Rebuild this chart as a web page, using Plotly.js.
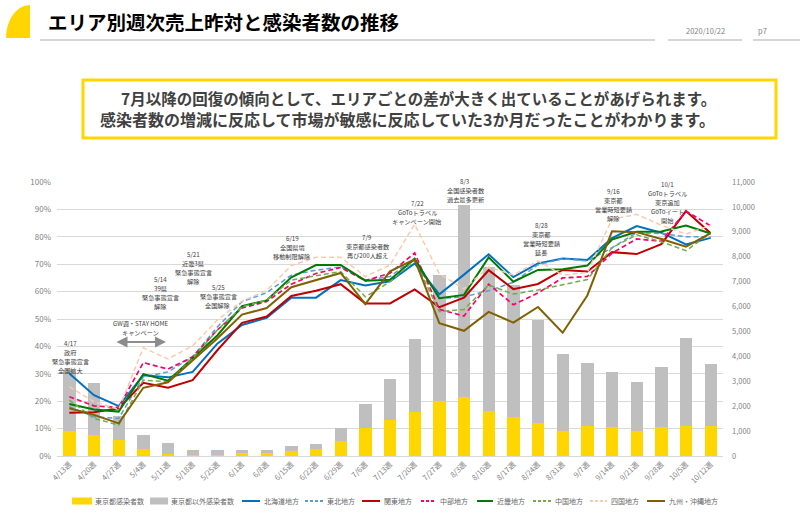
<!DOCTYPE html>
<html><head><meta charset="utf-8">
<script src="https://cdn.plot.ly/plotly-3.0.1.min.js"></script>
<style>html,body{margin:0;padding:0;background:#fff;}#chart{width:800px;height:528px;}</style>
</head><body><div id="chart"></div>
<script>
// ---------- data ----------
const weeks = ['4/13週','4/20週','4/27週','5/4週','5/11週','5/18週','5/25週','6/1週','6/8週','6/15週','6/22週','6/29週','7/6週','7/13週','7/20週','7/27週','8/3週','8/10週','8/17週','8/24週','8/31週','9/7週','9/14週','9/21週','9/28週','10/5週','10/12週'];
const tokyoCases = [1010, 830, 640, 270, 90, 30, 50, 130, 120, 200, 290, 610, 1130, 1440, 1770, 2200, 2380, 1800, 1560, 1320, 990, 1190, 1150, 985, 1180, 1190, 1190];
const otherCases = [2435, 2110, 960, 583, 419, 198, 202, 110, 120, 200, 203, 500, 953, 1664, 2930, 5070, 7700, 5770, 5290, 4150, 3110, 2545, 2236, 1987, 2406, 3549, 2489];
const hokkaido = [30.1, 22.2, 18.2, 29.5, 28.7, 30.7, 41.0, 47.8, 50.4, 57.8, 57.8, 64.2, 62.2, 63.8, 70.3, 59.0, 66.2, 73.6, 65.3, 70.3, 72.1, 71.5, 79.5, 83.9, 81.5, 77.2, 79.6];
const tohoku   = [18.0, 14.3, 13.7, 28.9, 30.7, 36.2, 47.1, 56.3, 59.6, 66.0, 67.8, 69.0, 64.2, 65.5, 72.2, 57.5, 58.1, 60.3, 63.4, 69.8, 72.0, 71.2, 76.0, 81.5, 81.2, 80.0, 80.0];
const kanto    = [15.8, 16.0, 17.4, 26.7, 24.9, 27.7, 38.6, 48.6, 50.9, 58.4, 60.3, 62.7, 55.7, 55.7, 60.8, 54.3, 57.8, 67.8, 60.9, 62.8, 67.9, 67.3, 74.4, 73.7, 77.3, 89.4, 81.3];
const chubu    = [21.6, 18.3, 17.7, 34.1, 31.7, 36.2, 46.0, 54.0, 56.4, 62.7, 66.6, 68.8, 64.0, 66.7, 74.1, 53.5, 51.1, 62.7, 55.2, 59.5, 65.0, 65.5, 74.0, 79.2, 78.4, 89.4, 84.0];
const kinki    = [19.0, 17.0, 16.2, 29.9, 27.5, 35.6, 44.0, 54.7, 56.8, 65.2, 69.7, 69.7, 64.0, 64.3, 71.9, 57.6, 58.8, 72.5, 63.6, 67.9, 68.2, 69.5, 79.0, 81.8, 81.9, 84.1, 81.2];
const chugoku  = [20.4, 13.7, 11.3, 27.7, 27.1, 35.6, 46.0, 54.4, 56.9, 64.2, 65.8, 67.3, 58.1, 63.6, 71.5, 52.7, 53.5, 62.4, 59.1, 60.6, 62.5, 64.4, 76.0, 80.7, 78.2, 74.9, 81.5];
const shikoku  = [25.3, 19.8, 17.0, 39.5, 35.4, 40.2, 49.6, 56.5, 60.4, 69.5, 72.5, 72.5, 65.5, 69.7, 84.6, 66.5, 61.0, 69.0, 66.0, 71.2, 66.0, 67.0, 86.4, 88.2, 84.2, 81.0, 84.2];
const kyushu   = [17.4, 15.0, 11.9, 24.9, 26.9, 35.0, 42.9, 51.6, 54.0, 61.6, 64.2, 66.8, 55.4, 67.4, 71.8, 48.5, 45.7, 52.6, 48.7, 54.4, 45.0, 58.6, 82.0, 81.7, 79.2, 76.4, 81.3];
const pctTicks = [0,10,20,30,40,50,60,70,80,90,100];

const events = [
  {lines:['4/17','政府','緊急事態宣言','全国拡大'], x:70, y:343},
  {lines:['GW週・STAY HOME','キャンペーン'], x:140, y:323},
  {lines:['5/14','39県','緊急事態宣言','解除'], x:160, y:279},
  {lines:['5/21','近畿3県','緊急事態宣言','解除'], x:193, y:254},
  {lines:['5/25','緊急事態宣言','全国解除'], x:218, y:287},
  {lines:['6/19','全国県境','移動制限解除'], x:292, y:238},
  {lines:['7/9','東京都感染者数','再び200人超え'], x:367, y:237},
  {lines:['7/22','GoToトラベル','キャンペーン開始'], x:417, y:203},
  {lines:['8/3','全国感染者数','過去最多更新'], x:465, y:181},
  {lines:['8/28','東京都','営業時短要請','延長'], x:541, y:225},
  {lines:['9/16','東京都','営業時短要請','解除'], x:613, y:191},
  {lines:['10/1','GoToトラベル','東京追加','GoToイート','開始'], x:667, y:184}
];

// ---------- geometry helpers (pixel -> paper) ----------
const W = 800, H = 528, ML = 57, MR = 77, MT = 182, MB = 72;
const PW = W - ML - MR, PH = H - MT - MB;
const px = x => (x - ML) / PW;
const py = y => (MT + PH - y) / PH;

const FONT = '"Noto Sans CJK JP", "Noto Sans", sans-serif';

const barSeries = [
  {name:'東京都感染者数', y:tokyoCases, color:'#FFD600'},
  {name:'東京都以外感染者数', y:otherCases, color:'#BFBFBF'}
];
const lineSeries = [
  {name:'北海道地方', y:hokkaido, color:'#0070C0', dash:'solid', w:2},
  {name:'東北地方', y:tohoku, color:'#5B9BD5', dash:'5px,3px', w:1.5},
  {name:'関東地方', y:kanto, color:'#C00000', dash:'solid', w:2},
  {name:'中部地方', y:chubu, color:'#FF0066', dash:'5px,3px', w:1.7},
  {name:'近畿地方', y:kinki, color:'#007A00', dash:'solid', w:2},
  {name:'中国地方', y:chugoku, color:'#70AD47', dash:'5px,3px', w:1.5},
  {name:'四国地方', y:shikoku, color:'#F8CBAD', dash:'5px,3px', w:1.5},
  {name:'九州・沖縄地方', y:kyushu, color:'#806000', dash:'solid', w:2}
];

const traces = [];
barSeries.forEach(s => traces.push({type:'bar', name:s.name, x:weeks, y:s.y, yaxis:'y', marker:{color:s.color}, hoverinfo:'skip'}));
lineSeries.forEach(s => traces.push({type:'scatter', mode:'lines', name:s.name, x:weeks, y:s.y, yaxis:'y2', line:{color:s.color, width:s.w, dash:s.dash}, hoverinfo:'skip'}));

// ---------- decorations ----------
const shapes = [];
const annotations = [];

// header yellow quarter-ellipse
(function(){
  const x0=6, x1=30, y0=5, y1=38, k=0.5523;
  const rx=x1-x0, ry=y1-y0;
  const P = (x,y) => px(x)+','+py(y);
  shapes.push({type:'path', xref:'paper', yref:'paper',
    path:'M'+P(x0,y1)+' C'+P(x0,y1-k*ry)+' '+P(x1-k*rx,y0)+' '+P(x1,y0)+' L'+P(x1,y1)+' Z',
    fillcolor:'#FFD600', line:{width:0}});
})();
// header underlines
[[40,655],[668,742],[753,800]].forEach(([a,b]) => shapes.push({type:'line', xref:'paper', yref:'paper', x0:px(a), x1:px(b), y0:py(40), y1:py(40), line:{color:'#C8C8C8', width:1.5}}));
annotations.push({text:'<b>エリア別週次売上昨対と感染者数の推移</b>', xref:'paper', yref:'paper', x:px(46), y:py(21), xanchor:'left', yanchor:'middle', showarrow:false, font:{size:19.5, color:'#000', family:FONT}});
annotations.push({text:'2020/10/22', xref:'paper', yref:'paper', x:px(705), y:py(30), xanchor:'center', yanchor:'middle', showarrow:false, font:{size:7.5, color:'#7F7F7F', family:FONT}});
annotations.push({text:'p7', xref:'paper', yref:'paper', x:px(762), y:py(30), xanchor:'center', yanchor:'middle', showarrow:false, font:{size:7.5, color:'#7F7F7F', family:FONT}});

// message box
shapes.push({type:'rect', xref:'paper', yref:'paper', x0:px(83), x1:px(776), y0:py(80), y1:py(138), line:{color:'#FFD600', width:3}, fillcolor:'rgba(0,0,0,0)'});
annotations.push({text:'<b>7月以降の回復の傾向として、エリアごとの差が大きく出ていることがあげられます。</b>', xref:'paper', yref:'paper', x:px(418), y:py(98), xanchor:'center', yanchor:'middle', showarrow:false, font:{size:15.5, color:'#404040', family:FONT}});
annotations.push({text:'<b>感染者数の増減に反応して市場が敏感に反応していた3か月だったことがわかります。</b>', xref:'paper', yref:'paper', x:px(407), y:py(119), xanchor:'center', yanchor:'middle', showarrow:false, font:{size:16, color:'#404040', family:FONT}});

// event notes: one annotation per line, spaced so glyph boxes do not collide
const NOTE_GAP = 9;
events.forEach(e => e.lines.forEach((t, i) => annotations.push({
  text:t, xref:'paper', yref:'paper', x:px(e.x), y:py(e.y + i*NOTE_GAP), xanchor:'center', yanchor:'middle',
  showarrow:false, borderpad:0, font:{size:6.2, color:'#404040', family:FONT}})));
// GW double arrow
annotations.push({text:'', xref:'paper', yref:'paper', axref:'paper', ayref:'paper', x:px(166), y:py(342), ax:px(115), ay:py(342), showarrow:true, arrowside:'end+start', arrowhead:2, startarrowhead:2, arrowsize:1.1, startarrowsize:1.1, arrowwidth:2, arrowcolor:'#8C8C8C'});

// legend (manual, one row)
const legendPos = [
  {s:72, e:92, t:93}, {s:150, e:168, t:169}, {s:242, e:260, t:262}, {s:305, e:323, t:325}, {s:362, e:380, t:382},
  {s:421, e:436, t:438}, {s:477, e:493, t:495}, {s:533, e:551, t:553}, {s:590, e:607, t:609}, {s:647, e:665, t:667}
];
const LY = 501;
barSeries.concat(lineSeries).forEach((s, i) => {
  const p = legendPos[i];
  if (i < 2) {
    shapes.push({type:'rect', xref:'paper', yref:'paper', x0:px(p.s), x1:px(p.e), y0:py(LY-3.5), y1:py(LY+3.5), fillcolor:s.color, line:{width:0}});
  } else {
    shapes.push({type:'line', xref:'paper', yref:'paper', x0:px(p.s), x1:px(p.e), y0:py(LY), y1:py(LY), line:{color:s.color, width:2, dash:s.dash === 'solid' ? 'solid' : '3px,2px'}});
  }
  annotations.push({text:s.name, xref:'paper', yref:'paper', x:px(p.t), y:py(LY), xanchor:'left', yanchor:'middle', showarrow:false, font:{size:7, color:'#666', family:FONT}});
});

const layout = {
  width:W, height:H,
  margin:{l:ML, r:MR, t:MT, b:MB, pad:0},
  paper_bgcolor:'#fff', plot_bgcolor:'#fff',
  font:{family:FONT, color:'#7F7F7F', size:8},
  barmode:'stack', bargap:0.5,
  showlegend:false,
  xaxis:{type:'category', tickangle:-45, tickfont:{size:7.5, color:'#7F7F7F'}, showgrid:false, showline:true, linecolor:'#D9D9D9', linewidth:1, ticks:'', range:[-0.5, weeks.length-0.5], fixedrange:true},
  yaxis:{side:'right', range:[0,11000], dtick:1000, tick0:0, tickformat:',d', showgrid:false, zeroline:false, showline:false, ticks:'', tickfont:{size:7.5, color:'#7F7F7F'}, ticklabelstandoff:8, fixedrange:true},
  yaxis2:{overlaying:'y', side:'left', range:[0,100], tickvals:pctTicks, ticktext:pctTicks.map(v => v+'%'), showgrid:true, gridcolor:'#D9D9D9', gridwidth:1, zeroline:false, showline:false, ticks:'', tickfont:{size:8, color:'#7F7F7F'}, ticklabelstandoff:5, fixedrange:true},
  shapes:shapes, annotations:annotations
};

Plotly.newPlot('chart', traces, layout, {staticPlot:true, displayModeBar:false});
</script>
</body></html>
